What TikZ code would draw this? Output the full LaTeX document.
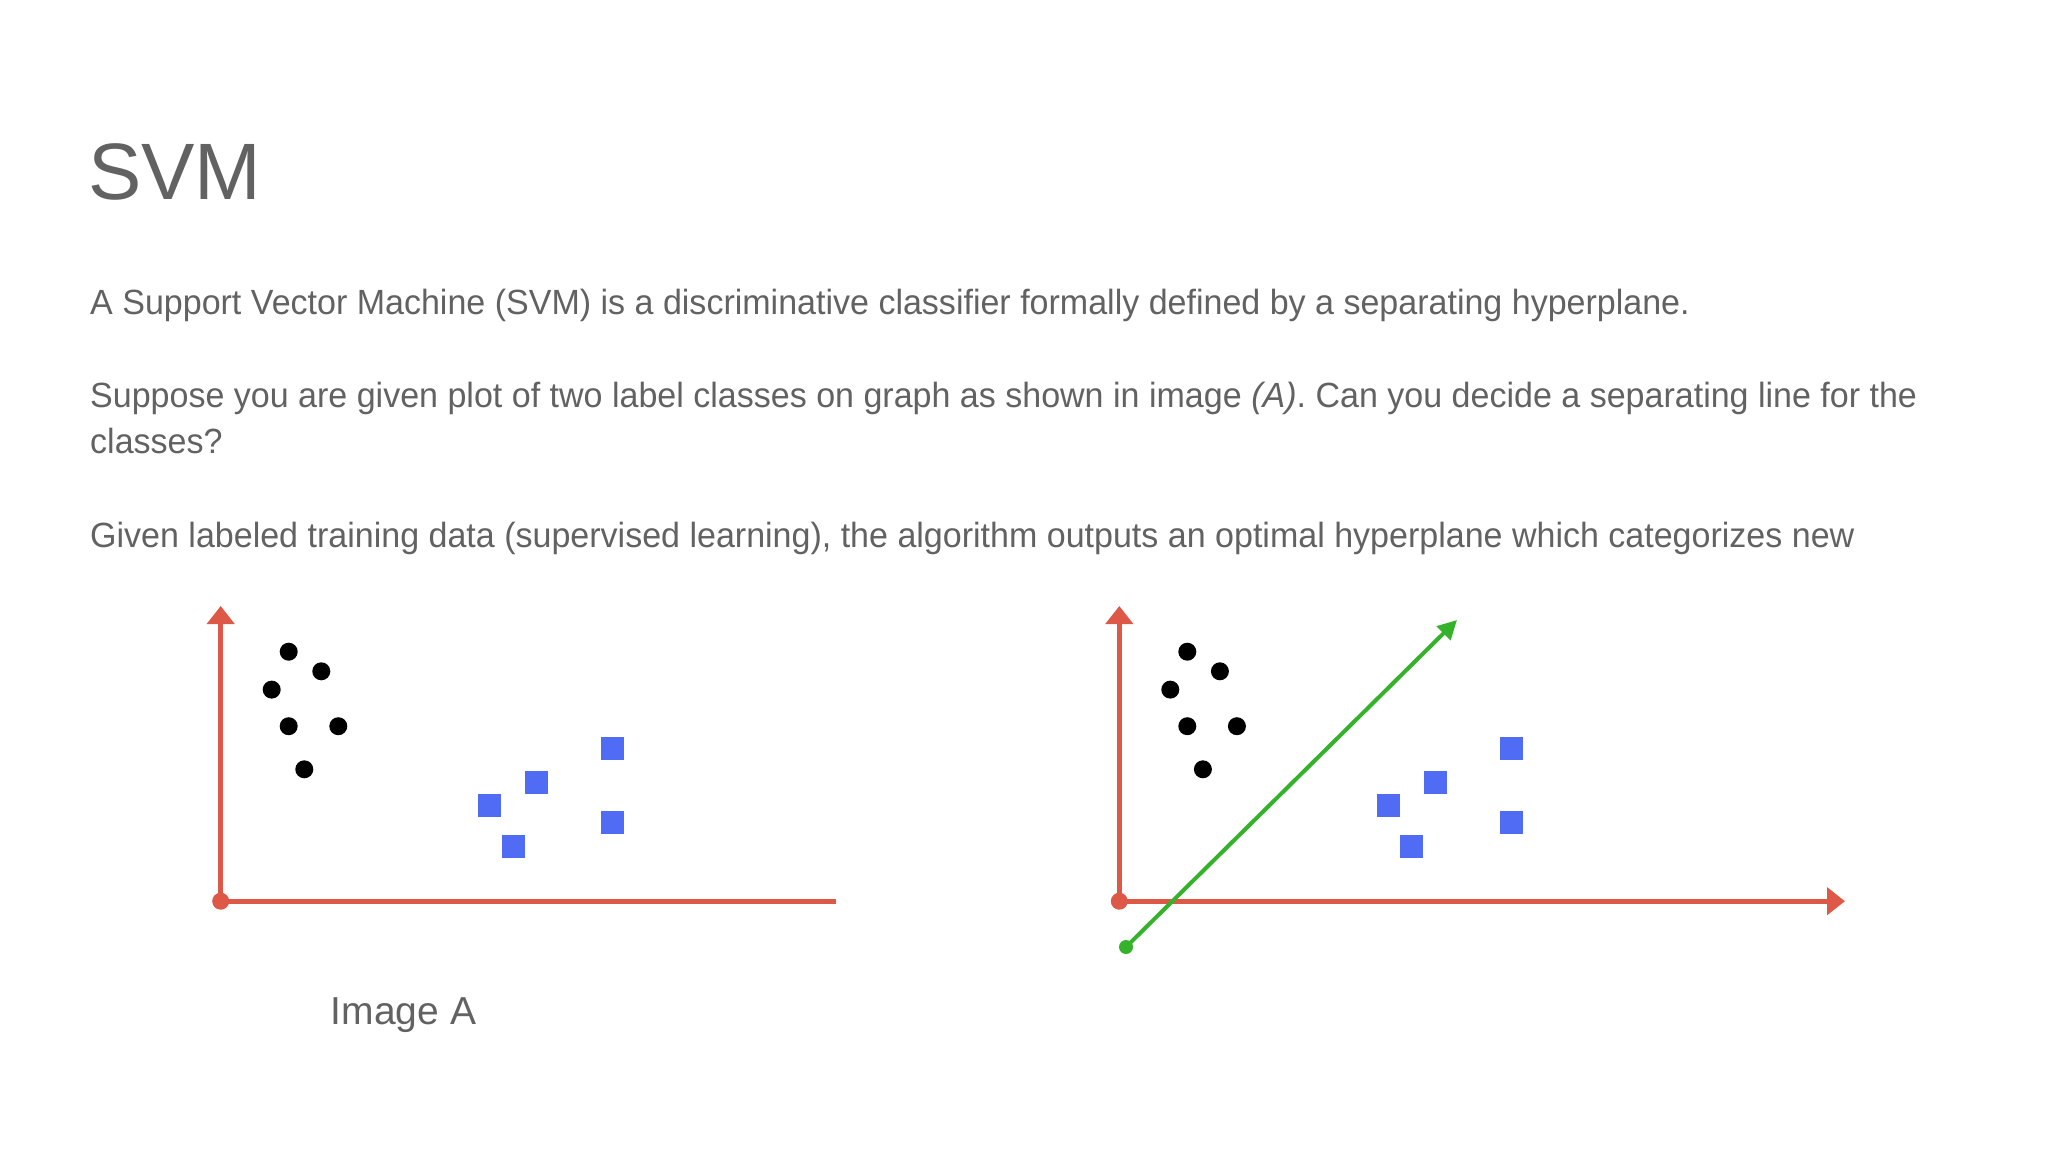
\documentclass[tikz,border=0pt]{standalone}
\usepackage{fontspec}
\setmainfont{Liberation Sans}
\newfontfamily\bodyfont[FakeStretch=0.972]{Liberation Sans}
\usetikzlibrary{arrows.meta}
\definecolor{axisred}{RGB}{222,88,72}
\definecolor{sqblue}{RGB}{80,108,245}
\definecolor{linegreen}{RGB}{52,178,42}
\definecolor{txtgray}{RGB}{98,98,98}
\begin{document}
\begin{tikzpicture}[x=1pt,y=-1pt,
  txt/.style={anchor=base west, inner sep=0pt, text=txtgray, font=\bodyfont\fontsize{35}{42}\selectfont},
  dotnode/.style={circle, fill=black, inner sep=0pt, minimum size=18pt},
  sqnode/.style={rectangle, fill=sqblue, inner sep=0pt, minimum size=23pt},
  originnode/.style={circle, fill=axisred, inner sep=0pt, minimum size=17pt},
  axisline/.style={draw=axisred, line width=5pt},
  axistip/.style={-{Triangle[width=27pt,length=18pt]}},
  greenline/.style={draw=linegreen, line width=4pt, -{Triangle[width=19pt,length=19pt]}},
  greendot/.style={circle, fill=linegreen, inner sep=0pt, minimum size=14pt}]
\useasboundingbox[fill=white] (0,0) rectangle (2048,1152);

% texts
\node[txt, font=\fontsize{80}{96}\selectfont] (title) at (88,199.8) {SVM};
\node[txt] (l1) at (90,314.8) {A Support Vector Machine (SVM) is a discriminative classifier formally defined by a separating hyperplane.};
\node[txt] (l2) at (90,407.5) {Suppose you are given plot of two label classes on graph as shown in image \textit{(A)}. Can you decide a separating line for the};
\node[txt] (l3) at (90,453) {classes?};
\node[txt] (l4) at (90,547) {Given labeled training data (supervised learning), the algorithm outputs an optimal hyperplane which categorizes new};
\node[txt, anchor=base, font=\fontsize{39}{46}\selectfont] (capA) at (403.6,1024) {Image A};

% left plot
\node[originnode] (o1) at (220.7,901.2) {};
\coordinate (y1) at (220.7,606);
\coordinate (x1) at (836,901.2);
\draw[axisline, axistip] (o1.center) -- (y1);
\draw[axisline] (o1.center) -- (x1);
\node[dotnode] (a1) at (288.7,651.7) {};
\node[dotnode] (a2) at (321.3,671.3) {};
\node[dotnode] (a3) at (271.7,689.6) {};
\node[dotnode] (a4) at (288.7,726.2) {};
\node[dotnode] (a5) at (338.3,726.2) {};
\node[dotnode] (a6) at (304.3,769.3) {};
\node[sqnode] (b1) at (489.8,805.9) {};
\node[sqnode] (b2) at (536.8,782.4) {};
\node[sqnode] (b3) at (513.3,846.4) {};
\node[sqnode] (b4) at (612.6,748.4) {};
\node[sqnode] (b5) at (612.6,822.9) {};

% right plot
\node[originnode] (o2) at (1119.3,901.2) {};
\coordinate (y2) at (1119.3,606);
\coordinate (x2) at (1845,901.2);
\draw[axisline, axistip] (o2.center) -- (y2);
\draw[axisline, axistip] (o2.center) -- (x2);
\node[dotnode] (c1) at (1187.3,651.7) {};
\node[dotnode] (c2) at (1219.9,671.3) {};
\node[dotnode] (c3) at (1170.3,689.6) {};
\node[dotnode] (c4) at (1187.3,726.2) {};
\node[dotnode] (c5) at (1236.9,726.2) {};
\node[dotnode] (c6) at (1202.9,769.3) {};
\node[sqnode] (e1) at (1388.4,805.9) {};
\node[sqnode] (e2) at (1435.4,782.4) {};
\node[sqnode] (e3) at (1411.9,846.4) {};
\node[sqnode] (e4) at (1511.2,748.4) {};
\node[sqnode] (e5) at (1511.2,822.9) {};
\node[greendot] (g0) at (1126,947) {};
\coordinate (g1) at (1457,620);
\draw[greenline] (g0.center) -- (g1);
\end{tikzpicture}
\end{document}
